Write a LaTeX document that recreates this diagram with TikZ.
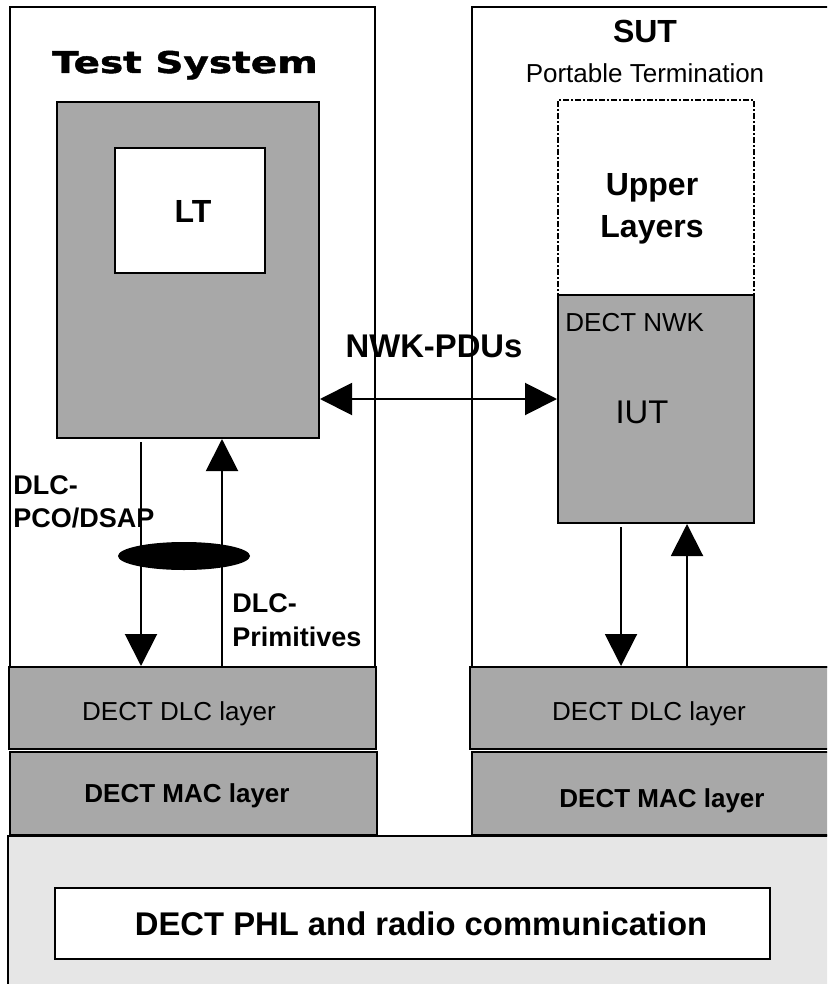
\documentclass[tikz,border=0pt]{standalone}
\usepackage{fontspec}
\setmainfont{Liberation Sans}
\newfontfamily\titlefont[FakeStretch=1.3, FakeBold=1.5]{DejaVu Sans}
\usepackage{tikz}
\usetikzlibrary{arrows.meta, positioning, fit, shapes.geometric}
\definecolor{layergray}{RGB}{168,168,168}
\definecolor{radiogray}{RGB}{230,230,230}
\newcommand{\fs}[1]{\fontsize{#1}{1.2\dimexpr#1pt\relax}\selectfont}
\tikzset{
  frame/.style={draw=black, line width=1pt, inner sep=0pt},
  graybox/.style={frame, fill=layergray},
  whitebox/.style={frame, fill=white},
  upperbox/.style={draw=black, line width=0.6pt, inner sep=0pt, dash pattern=on 3pt off 1pt on 1pt off 1pt},
  txt/.style={inner sep=0pt, font=\fs{13}},
  btxt/.style={inner sep=0pt, font=\bfseries\fs{13}},
  arrow/.style={draw=black, line width=1pt, -{Triangle[length=16pt, width=16pt]}},
  duplex/.style={draw=black, line width=1pt, {Triangle[length=16pt, width=16pt]}-{Triangle[length=16pt, width=16pt]}}
}

\begin{document}
\begin{tikzpicture}[x=0.5pt, y=-0.5pt]
  \useasboundingbox (0,0) rectangle (827,984);
  \clip (0,0) rectangle (827,984);

  % radio part
  \node[frame, fill=radiogray, fit={(8,836) (840,1000)}] (radio) {};
  \node[whitebox, fit={(55,888) (770,959)}] (phl) {};
  \node[btxt, anchor=base, font=\bfseries\fs{16.4}] (phl label) at (421,935) {DECT PHL and radio communication};

  % test system
  \node[frame, fit={(10,7) (375,667)}] (testsys) {};
  \node[inner sep=0pt, anchor=base, font=\titlefont\bfseries\fs{15}] (testsys title) at (185,73) {Test System};
  \node[graybox, fit={(57,102) (319,438)}] (tester) {};
  \node[whitebox, fit={(115,148) (265,273)}] (lt) {};
  \node[btxt, anchor=base, font=\bfseries\fs{16}] (lt label) at (193,222) {LT};
  \node[graybox, fit={(9,667) (376,749)}] (dlc left) {};
  \node[txt, anchor=base] (dlc left label) at (179,720) {DECT DLC layer};
  \node[graybox, fit={(10,752) (377,835)}] (mac left) {};
  \node[btxt, anchor=base] (mac left label) at (187,802) {DECT MAC layer};

  % SUT
  \node[frame, fit={(472,7) (840,667)}] (sut) {};
  \node[btxt, anchor=base, font=\bfseries\fs{16}] (sut title) at (645,43) {SUT};
  \node[txt, anchor=base] (sut sub) at (645,83) {Portable Termination};
  \node[upperbox, fit={(558,100) (754,295)}] (upper) {};
  \node[btxt, anchor=north, align=center, font=\bfseries\fontsize{16}{21}\selectfont] (upper label) at (652,173) {Upper\\Layers};
  \node[graybox, fit={(558,295) (754,523)}] (iut) {};
  \node[txt, anchor=north west] (nwk label) at (565,313) {DECT NWK};
  \node[txt, anchor=base, font=\fs{16.4}] (iut label) at (642,423) {IUT};
  \node[graybox, fit={(470,667) (840,749)}] (dlc right) {};
  \node[txt, anchor=base] (dlc right label) at (649,720) {DECT DLC layer};
  \node[graybox, fit={(472,752) (840,835)}] (mac right) {};
  \node[btxt, anchor=base] (mac right label) at (662,807) {DECT MAC layer};

  % NWK-PDUs
  \coordinate (pdu) at (0,399);
  \draw[duplex] (tester.east |- pdu) -- (iut.west |- pdu);
  \node[btxt, anchor=base, font=\bfseries\fs{16.4}] (pdu label) at (434,357) {NWK-PDUs};

  % DLC primitives, tester side
  \coordinate (down left) at (141,442);
  \coordinate (up left) at (222,0);
  \draw[arrow] (down left) -- (dlc left.north -| down left);
  \draw[arrow] (dlc left.north -| up left) -- (tester.south -| up left);
  \node[ellipse, fill=black, minimum width=66pt, minimum height=14pt, inner sep=0pt] (sap) at (184,556) {};
  \node[btxt, anchor=north west, align=left, font=\bfseries\fontsize{13.5}{16.5}\selectfont] (pco label) at (13,475) {DLC-\\PCO/DSAP};
  \node[btxt, anchor=north west, align=left, font=\bfseries\fontsize{13.5}{17}\selectfont] (prim label) at (232,593) {DLC-\\Primitives};

  % DLC primitives, IUT side
  \coordinate (down right) at (621,527);
  \coordinate (up right) at (687,0);
  \draw[arrow] (down right) -- (dlc right.north -| down right);
  \draw[arrow] (dlc right.north -| up right) -- (iut.south -| up right);
\end{tikzpicture}
\end{document}
